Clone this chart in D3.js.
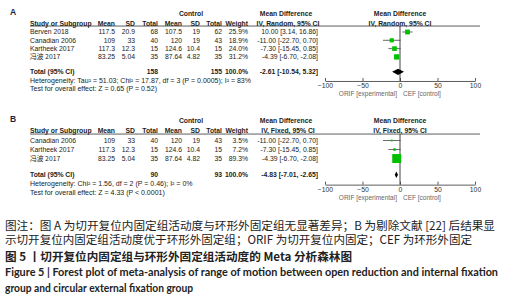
<!DOCTYPE html>
<html>
<head>
<meta charset="utf-8">
<script src="https://cdn.jsdelivr.net/npm/d3@7"></script>
<style>
  body { margin: 0; background: #fff; }
  svg { display: block; }
</style>
</head>
<body>
<div id="chart"></div>
<script>
// panel A (random effects)
var studiesA = ["Berven 2018", "Canadian 2006", "Kartheek 2017", "冯波 2017"];
var expMeanA = [117.5, 109, 117.3, 83.25];
var expSdA = [20.9, 33, 12.3, 5.04];
var expNA = [68, 40, 15, 35];
var ctlMeanA = [107.5, 120, 124.6, 87.64];
var ctlSdA = [19, 19, 10.4, 4.82];
var ctlNA = [62, 43, 15, 35];
var weightA = [25.9, 18.9, 24.0, 31.2];
var mdA = [10.00, -11.00, -7.30, -4.39];
var loA = [3.14, -22.70, -15.45, -6.70];
var hiA = [16.86, 0.70, 0.85, -2.08];
var totalA = { nE: 158, nC: 155, md: -2.61, lo: -10.54, hi: 5.32 };

// panel B (fixed effects, ref [22] removed)
var studiesB = ["Canadian 2006", "Kartheek 2017", "冯波 2017"];
var expMeanB = [109, 117.3, 83.25];
var expSdB = [33, 12.3, 5.04];
var expNB = [40, 15, 35];
var ctlMeanB = [120, 124.6, 87.64];
var ctlSdB = [19, 10.4, 4.82];
var ctlNB = [43, 15, 35];
var weightB = [3.5, 7.2, 89.3];
var mdB = [-11.00, -7.30, -4.39];
var loB = [-22.70, -15.45, -6.70];
var hiB = [0.70, 0.85, -2.08];
var totalB = { nE: 90, nC: 93, md: -4.83, lo: -7.01, hi: -2.65 };

var axisTicks = [-100, -50, 0, 50, 100];

var W = 508, H = 298;
var FONT = "'Liberation Sans', Arial, sans-serif";
var CJK = "'Noto Sans CJK SC', sans-serif";

var svg = d3.select("#chart").append("svg")
    .attr("width", W).attr("height", H);
svg.append("rect").attr("width", W).attr("height", H).attr("fill", "#fff");

var x = d3.scaleLinear().domain([-100, 100]).range([325, 475]);
var sq = d3.scaleSqrt().domain([0, 100]).range([0, 9.5]);

// right edges of the table columns
var col = { meanE: 115, sdE: 135, nE: 158, meanC: 182, sdC: 200, nC: 222, wt: 248, ci: 318 };

function ciText(m, l, h) {
    return m.toFixed(2) + " [" + l.toFixed(2) + ", " + h.toFixed(2) + "]";
}

function txt(g, x0, y0, s, opt) {
    opt = opt || {};
    var t = g.append("text")
        .attr("x", x0).attr("y", y0).attr("dy", "0.35em")
        .attr("font-family", /[\u4e00-\u9fff]/.test(s) ? CJK : FONT)
        .attr("font-size", opt.size || 6.8)
        .attr("font-weight", opt.bold ? "bold" : "normal")
        .attr("fill", opt.fill || "#222")
        .attr("text-anchor", opt.anchor || "start")
        .text(s);
    return t;
}

function drawPanel(p) {
    var g = svg.append("g");
    var u = p.u, top = p.top;
    var ySub = top + 1.1 * u, yLine = top + 1.45 * u;
    var rowY = function (i) { return top + (2.17 + i) * u; };
    var yTot = rowY(p.studies.length - 1) + 1.8 * u;
    var yAxis = yTot + 1.1 * u;

    txt(g, 10, top - 2, p.label, { bold: true, size: 8.5, fill: "#1c2540" });
    txt(g, 191, top, "Control", { bold: true, anchor: "middle" });
    txt(g, 286, top, "Mean Difference", { bold: true, anchor: "middle" });
    txt(g, 400, top, "Mean Difference", { bold: true, anchor: "middle" });

    txt(g, 30, ySub, "Study or Subgroup", { bold: true });
    [["Mean", col.meanE], ["SD", col.sdE], ["Total", col.nE], ["Mean", col.meanC],
     ["SD", col.sdC], ["Total", col.nC], ["Weight", col.wt]].forEach(function (h) {
        txt(g, h[1], ySub, h[0], { bold: true, anchor: "end" });
    });
    txt(g, 288, ySub, p.method, { bold: true, anchor: "middle" });
    txt(g, 400, ySub, p.method, { bold: true, anchor: "middle" });

    g.append("line").attr("x1", 30).attr("x2", 480)
        .attr("y1", yLine).attr("y2", yLine)
        .attr("stroke", "#333").attr("stroke-width", 0.8);

    // zero line
    g.append("line").attr("x1", x(0)).attr("x2", x(0))
        .attr("y1", yLine).attr("y2", yAxis)
        .attr("stroke", "#111").attr("stroke-width", 0.8);

    p.studies.forEach(function (s, i) {
        var y = rowY(i);
        txt(g, 30, y, s);
        txt(g, col.meanE, y, String(p.meanE[i]), { anchor: "end" });
        txt(g, col.sdE, y, String(p.sdE[i]), { anchor: "end" });
        txt(g, col.nE, y, String(p.nE[i]), { anchor: "end" });
        txt(g, col.meanC, y, String(p.meanC[i]), { anchor: "end" });
        txt(g, col.sdC, y, String(p.sdC[i]), { anchor: "end" });
        txt(g, col.nC, y, String(p.nC[i]), { anchor: "end" });
        txt(g, col.wt, y, p.wt[i].toFixed(1) + "%", { anchor: "end" });
        txt(g, col.ci, y, ciText(p.md[i], p.lo[i], p.hi[i]), { anchor: "end" });
    });

    g.selectAll(".ci").data(p.studies).enter().append("line")
        .attr("x1", function (d, i) { return x(p.lo[i]); })
        .attr("x2", function (d, i) { return x(p.hi[i]); })
        .attr("y1", function (d, i) { return rowY(i); })
        .attr("y2", function (d, i) { return rowY(i); })
        .attr("stroke", "#444").attr("stroke-width", 0.8);

    g.selectAll(".sq").data(p.studies).enter().append("rect")
        .attr("x", function (d, i) { return x(p.md[i]) - sq(p.wt[i]) / 2; })
        .attr("y", function (d, i) { return rowY(i) - sq(p.wt[i]) / 2; })
        .attr("width", function (d, i) { return sq(p.wt[i]); })
        .attr("height", function (d, i) { return sq(p.wt[i]); })
        .attr("fill", "#00c000");

    // total row
    var t = p.total;
    txt(g, 30, yTot, "Total (95% CI)", { bold: true });
    txt(g, col.nE, yTot, String(t.nE), { bold: true, anchor: "end" });
    txt(g, col.nC, yTot, String(t.nC), { bold: true, anchor: "end" });
    txt(g, col.wt, yTot, "100.0%", { bold: true, anchor: "end" });
    txt(g, col.ci, yTot, ciText(t.md, t.lo, t.hi), { bold: true, anchor: "end" });

    var dh = 3.2;
    g.append("path")
        .attr("d", "M" + x(t.lo) + "," + yTot + "L" + x(t.md) + "," + (yTot - dh) +
              "L" + x(t.hi) + "," + yTot + "L" + x(t.md) + "," + (yTot + dh) + "Z")
        .attr("fill", "#000");

    txt(g, 30, yTot + u, p.het, { size: 7 });
    txt(g, 30, yTot + 2 * u, p.test, { size: 7 });

    var ax = g.append("g")
        .attr("transform", "translate(0," + yAxis + ")")
        .call(d3.axisBottom(x).tickValues(axisTicks)
            .tickSizeInner(-3).tickSizeOuter(0).tickPadding(2.5));
    ax.select(".domain").attr("stroke", "#333").attr("stroke-width", 0.8);
    ax.selectAll(".tick line").attr("stroke", "#333").attr("stroke-width", 0.8);
    ax.selectAll(".tick text").attr("font-family", FONT).attr("font-size", 6.8).attr("fill", "#333");

    txt(g, 397, yAxis + 1.5 * u, "ORIF [experimental]", { anchor: "end", fill: "#666", size: 6.5 });
    txt(g, 403, yAxis + 1.5 * u, "CEF [control]", { fill: "#666", size: 6.5 });
}

drawPanel({
    label: "A", top: 14, u: 8.3, method: "IV, Random, 95% CI",
    studies: studiesA, meanE: expMeanA, sdE: expSdA, nE: expNA,
    meanC: ctlMeanA, sdC: ctlSdA, nC: ctlNA, wt: weightA,
    md: mdA, lo: loA, hi: hiA, total: totalA,
    het: "Heterogeneity: Tau\u00b2 = 51.03; Chi\u00b2 = 17.87, df = 3 (P = 0.0005); I\u00b2 = 83%",
    test: "Test for overall effect: Z = 0.65 (P = 0.52)"
});

drawPanel({
    label: "B", top: 121, u: 9.0, method: "IV, Fixed, 95% CI",
    studies: studiesB, meanE: expMeanB, sdE: expSdB, nE: expNB,
    meanC: ctlMeanB, sdC: ctlSdB, nC: ctlNB, wt: weightB,
    md: mdB, lo: loB, hi: hiB, total: totalB,
    het: "Heterogeneity: Chi\u00b2 = 1.56, df = 2 (P = 0.46); I\u00b2 = 0%",
    test: "Test for overall effect: Z = 4.33 (P < 0.0001)"
});

// caption
var cap = [
    { s: "图注：图 A 为切开复位内固定组活动度与环形外固定组无显著差异；B 为剔除文献 [22] 后结果显", y: 226, len: 490, bold: false },
    { s: "示切开复位内固定组活动度优于环形外固定组；ORIF 为切开复位内固定；CEF 为环形外固定", y: 240, len: 467, bold: false },
    { s: "图 5 丨切开复位内固定组与环形外固定组活动度的 Meta 分析森林图", y: 257, len: 347, bold: true },
    { s: "Figure 5  |  Forest plot of meta-analysis of range of motion between open reduction and internal fixation", y: 272, len: 493, bold: true, en: true },
    { s: "group and circular external fixation group", y: 288, len: 188, bold: true, en: true }
];
cap.forEach(function (c) {
    svg.append("text")
        .attr("x", 5).attr("y", c.y).attr("dy", "0.35em")
        .attr("font-family", c.en ? "Lato, 'Open Sans', sans-serif" : CJK)
        .attr("font-size", c.en ? 10.5 : 11.5)
        .attr("font-weight", c.bold ? "bold" : "normal")
        .attr("fill", "#222")
        .attr("textLength", c.len)
        .attr("lengthAdjust", "spacingAndGlyphs")
        .text(c.s);
});
</script>
</body>
</html>
